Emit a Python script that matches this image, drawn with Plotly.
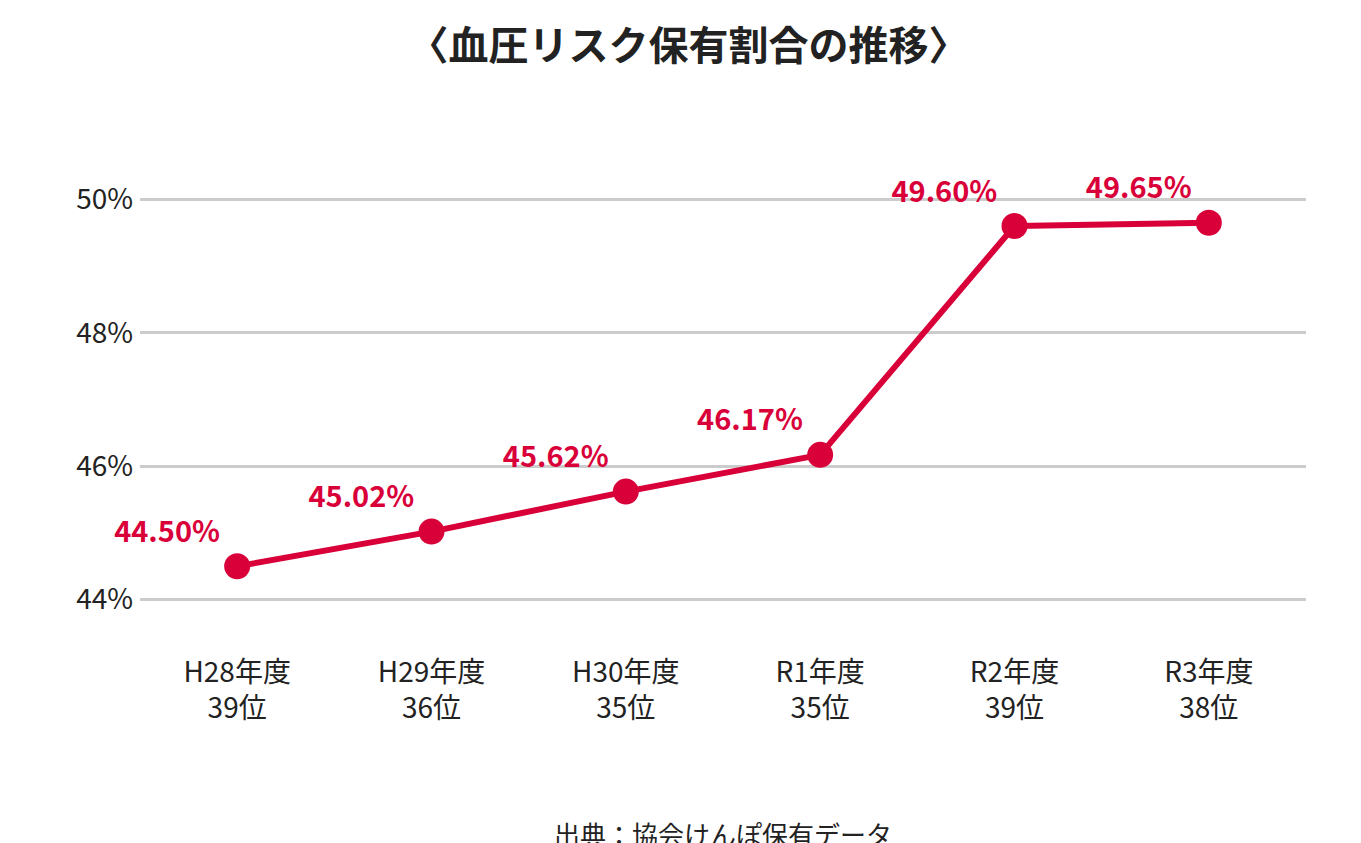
import plotly.graph_objects as go

categories = ['H28年度<br>39位', 'H29年度<br>36位', 'H30年度<br>35位', 'R1年度<br>35位', 'R2年度<br>39位', 'R3年度<br>38位']
values = [44.50, 45.02, 45.62, 46.17, 49.60, 49.65]
labels = ['44.50%', '45.02%', '45.62%', '46.17%', '49.60%', '49.65%']
y_ticks = [44, 46, 48, 50]

red = '#d9003a'
font = 'Noto Sans CJK JP'

fig = go.Figure()
fig.add_trace(go.Scatter(
    x=categories, y=values, mode='lines+markers+text',
    line=dict(color=red, width=6),
    marker=dict(color=red, size=26),
    text=labels, textposition='top left',
    textfont=dict(color=red, size=29, family=font, weight='bold'),
    cliponaxis=False,
))

fig.update_layout(
    width=1361, height=843,
    margin=dict(l=132, r=63, t=158, b=218),
    paper_bgcolor='white', plot_bgcolor='white',
    showlegend=False,
    font=dict(family=font, color='#222'),
    title=dict(text='〈血圧リスク保有割合の推移〉', x=0.5, xanchor='center',
               y=0.955, yanchor='middle', font=dict(size=40, color='#222', weight='bold')),
    annotations=[dict(text='出典：協会けんぽ保有データ', xref='paper', yref='paper',
                      x=0.5, y=-0.43, xanchor='center', yanchor='middle',
                      showarrow=False, font=dict(size=26, color='#222'))],
)
fig.update_xaxes(range=[-0.5, 5.5], showgrid=False, showline=False, ticks='',
                 tickfont=dict(size=28), ticklabelstandoff=20)
fig.update_yaxes(range=[43.5, 50.5], tickvals=y_ticks, ticktext=[f'{v}%' for v in y_ticks],
                 showgrid=True, gridcolor='#cccccc', gridwidth=3, zeroline=False,
                 tickfont=dict(size=28), ticks='', ticklabelstandoff=6)

fig.write_html('out.html')
